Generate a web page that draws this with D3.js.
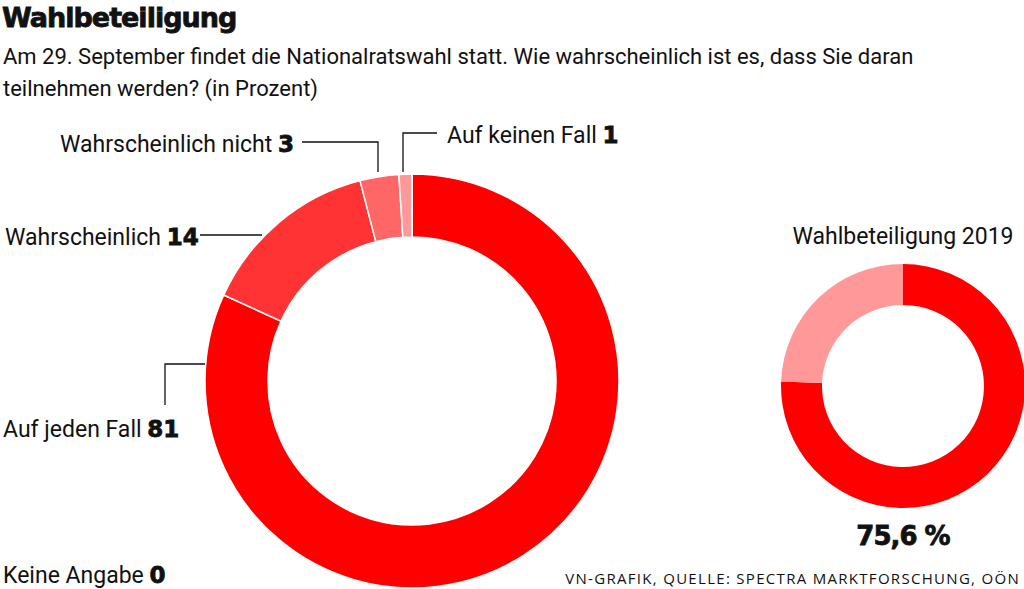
<!DOCTYPE html>
<html lang="de">
<head>
<meta charset="utf-8">
<script src="https://cdnjs.cloudflare.com/ajax/libs/d3/7.8.5/d3.min.js"></script>
<style>
  body { margin: 0; background: #fff; }
  text { font-family: "Liberation Sans Narrow", "Roboto", sans-serif; fill: #111; }
</style>
</head>
<body>
<svg id="canvas" width="1024" height="589"></svg>
<script>
// data
const answers = ["Auf jeden Fall", "Wahrscheinlich", "Wahrscheinlich nicht", "Auf keinen Fall", "Keine Angabe"];
const shares = [81, 14, 3, 1, 0];
const answerColors = ["#ff0000", "#ff3333", "#ff6666", "#ff9999", "#cccccc"];
const turnoutParts = ["Wahlbeteiligung", "Rest"];
const turnoutValues = [75.6, 24.4];
const turnoutColors = ["#ff0000", "#ff9999"];

const svg = d3.select("#canvas");

svg.append("text").attr("x", 2).attr("y", 27)
  .style("font-family", "'DejaVu Sans', sans-serif").style("font-weight", 900)
  .style("font-size", "27px").style("letter-spacing", "-1px")
  .style("stroke", "#111").style("stroke-width", 0.8).text("Wahlbeteiligung");
svg.append("text").attr("x", 3).attr("y", 64).style("font-size", "22px")
  .text("Am 29. September findet die Nationalratswahl statt. Wie wahrscheinlich ist es, dass Sie daran");
svg.append("text").attr("x", 3).attr("y", 96).style("font-size", "22px")
  .text("teilnehmen werden? (in Prozent)");

const pie = d3.pie().sort(null).value(d => d);

// big donut
const big = svg.append("g").attr("transform", "translate(412,381)");
big.selectAll("path").data(pie(shares)).join("path")
  .attr("d", d3.arc().innerRadius(144).outerRadius(207))
  .attr("fill", (d, i) => answerColors[i])
  .attr("stroke", "#fff").attr("stroke-width", 1.5);

// labels + leader lines
const labels = [
  { i: 0, x: 3, y: 437, line: [[205, 364], [165, 364], [165, 405]] },
  { i: 1, x: 5, y: 245, line: [[200, 235], [262, 235]] },
  { i: 2, x: 60, y: 152, line: [[302, 142], [378, 142], [378, 172]] },
  { i: 3, x: 447, y: 143, line: [[437, 133], [403, 133], [403, 172]] },
  { i: 4, x: 3, y: 583, line: null }
];
labels.forEach(l => {
  const t = svg.append("text").attr("x", l.x).attr("y", l.y).style("font-size", "23px");
  t.append("tspan").text(answers[l.i] + " ");
  t.append("tspan").style("font-weight", "bold").style("font-family", "'DejaVu Sans', sans-serif")
    .style("stroke", "#111").style("stroke-width", 0.8).text(shares[l.i]);
  if (l.line) svg.append("path").attr("d", d3.line()(l.line))
    .attr("fill", "none").attr("stroke", "#111").attr("stroke-width", 1.3);
});

// small donut
const small = svg.append("g").attr("transform", "translate(903,386)");
small.selectAll("path").data(pie(turnoutValues)).join("path")
  .attr("d", d3.arc().innerRadius(81).outerRadius(122))
  .attr("fill", (d, i) => turnoutColors[i]);
svg.append("text").attr("x", 903).attr("y", 244).attr("text-anchor", "middle")
  .style("font-size", "23px").text("Wahlbeteiligung 2019");
svg.append("text").attr("x", 903).attr("y", 545).attr("text-anchor", "middle")
  .style("font-family", "'DejaVu Sans', sans-serif").style("font-weight", 900)
  .style("font-size", "26px").style("letter-spacing", "-1px")
  .style("stroke", "#111").style("stroke-width", 0.8)
  .text(String(turnoutValues[0]).replace(".", ",") + " %");

svg.append("text").attr("x", 1020).attr("y", 584).attr("text-anchor", "end")
  .style("font-family", "'Open Sans', sans-serif").style("font-size", "15px")
  .style("letter-spacing", "1.3px").text("VN-GRAFIK, QUELLE: SPECTRA MARKTFORSCHUNG, OÖN");
</script>
</body>
</html>
